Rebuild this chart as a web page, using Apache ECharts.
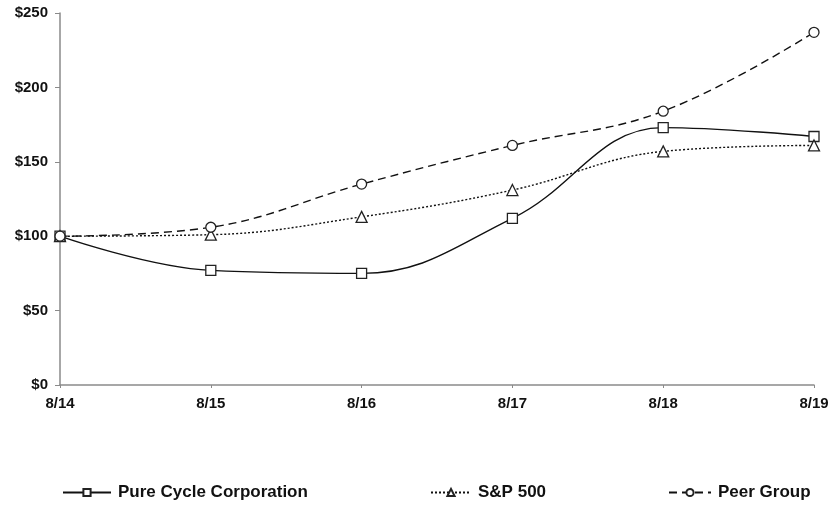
<!DOCTYPE html>
<html><head><meta charset="utf-8">
<script src="https://cdn.jsdelivr.net/npm/echarts@6/dist/echarts.min.js"></script>
<style>html,body{margin:0;padding:0;background:#fff}#c{width:832px;height:508px}</style>
</head><body><div id="c"></div>
<script>
const categories = ['8/14','8/15','8/16','8/17','8/18','8/19'];
const pureCycle = [100, 77, 75, 112, 173, 167];
const sp500 = [100, 101, 113, 131, 157, 161];
const peerGroup = [100, 106, 135, 161, 184, 237];
const seriesNames = ['Pure Cycle Corporation', 'S&P 500', 'Peer Group'];

const font = '"Liberation Sans", Arial, sans-serif';
const chart = echarts.init(document.getElementById('c'));
const lineDefs = [
  {name: seriesNames[0], data: pureCycle, symbol: 'rect', type: 'solid', size: 10},
  {name: seriesNames[1], data: sp500, symbol: 'triangle', type: [2,2], size: 11},
  {name: seriesNames[2], data: peerGroup, symbol: 'circle', type: [8,5], size: 10}
];
const legendPos = [{left: 62, itemWidth: 48}, {left: 430, itemWidth: 40}, {left: 668, itemWidth: 42}];
chart.setOption({
  animation: false,
  grid: {left: 60, right: 18, top: 13, bottom: 123},
  legend: lineDefs.map((d, i) => Object.assign({
    data: [d.name], top: 484, itemHeight: 9, itemGap: 8, padding: 0,
    textStyle: {fontFamily: font, fontWeight: 'bold', fontSize: 17, color: '#111', padding: [0,0,0,2]}
  }, legendPos[i])),
  xAxis: {
    type: 'category', data: categories, boundaryGap: false,
    axisLine: {lineStyle: {color: '#8a8a8a', width: 1.5}},
    axisTick: {show: true, length: 3, lineStyle: {color: '#8a8a8a'}},
    axisLabel: {fontFamily: font, fontWeight: 'bold', fontSize: 15, color: '#111', margin: 11}
  },
  yAxis: {
    type: 'value', min: 0, max: 250, interval: 50,
    axisLine: {show: true, lineStyle: {color: '#8a8a8a', width: 1.5}},
    axisTick: {show: true, length: 5, lineStyle: {color: '#8a8a8a'}},
    splitLine: {show: false},
    axisLabel: {fontFamily: font, fontWeight: 'bold', fontSize: 15, color: '#111', margin: 12, formatter: '${value}'}
  },
  series: lineDefs.map(d => ({
    name: d.name, type: 'line', data: d.data, smooth: 0.4,
    symbol: d.symbol, symbolSize: d.size, showAllSymbol: true,
    lineStyle: {color: '#111', width: 1.4, type: d.type},
    itemStyle: {color: '#fff', borderColor: '#222', borderWidth: 1.3}
  }))
});
</script></body></html>
